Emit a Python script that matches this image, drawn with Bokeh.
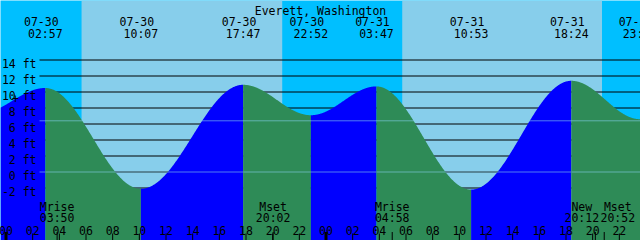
import numpy as np
from datetime import datetime
from bokeh.plotting import figure
from bokeh.models import Range1d
from bokeh.core.properties import value
from bokeh.embed import file_html
from bokeh.resources import INLINE

# ---------------- data ----------------
TITLE = "Everett, Washington"
# high / low tides (local time) and heights in feet
tide_times = ["07-29 22:00", "07-30 02:57", "07-30 10:07", "07-30 17:47", "07-30 22:52",
              "07-31 03:47", "07-31 10:53", "07-31 18:24", "07-31 23:33", "08-01 04:40"]
tide_heights = [7.3, 10.5, -2.1, 10.9, 7.1, 10.7, -2.2, 11.4, 6.6, 10.8]
tide_labeled = [False, True, True, True, True, True, True, True, True, False]
# sunrise / sunset
sun_rise = ["07-30 05:40", "07-31 05:43"]
sun_set = ["07-30 20:43", "07-31 20:42"]
# moon events
moon_names = ["Mrise", "Mset", "Mrise", "New", "Mset"]
moon_times = ["07-30 03:50", "07-30 20:02", "07-31 04:58", "07-31 20:12", "07-31 20:52"]
# current time marker
now_time = "07-30 00:43"
# levels
height_ticks = [-2, 0, 2, 4, 6, 8, 10, 12, 14]
mean_level = 6.4
datum_level = 0.0
# hour labels on the time axis
hour_labels = ["00", "02", "04", "06", "08", "10", "12", "14", "16", "18", "20", "22"]
days = ["07-30", "07-31"]

# ---------------- helpers ----------------
BASE = datetime(2000, 7, 30, 0, 0)


def hours(s):
    d = datetime.strptime("2000-" + s, "%Y-%m-%d %H:%M")
    return (d - BASE).total_seconds() / 3600.0


def hhmm(s):
    return s.split(" ")[1]


def ddmm(s):
    return s.split(" ")[0]


W, H = 640, 240
PX_H = W / 48.0          # pixels per hour
PX_FT = 8.0              # pixels per foot
X0_PX = 5.5              # pixel of 07-30 00:00
Y0_PX = 171.5            # pixel of 0 ft

x_start = -X0_PX / PX_H
x_end = x_start + W / PX_H
y_top = Y0_PX / PX_FT
y_bot = -(H - Y0_PX) / PX_FT


def ypx(y):
    return (Y0_PX - y) / PX_FT


def xpx(x):
    return x_start + x / PX_H


tt = [hours(s) for s in tide_times]


def curve(t):
    t = np.asarray(t, dtype=float)
    out = np.empty_like(t)
    for i in range(len(tt) - 1):
        m = (t >= tt[i]) & (t <= tt[i + 1])
        f = (t[m] - tt[i]) / (tt[i + 1] - tt[i])
        out[m] = tide_heights[i] + (tide_heights[i + 1] - tide_heights[i]) * (1 - np.cos(np.pi * f)) / 2
    return out


FONT = value("DejaVu Sans Mono")
FS = "11.5px"
NIGHT = "#00BFFF"
DAY = "#87CEEB"
RISE = "#0000FF"
FALL = "#2E8B57"

p = figure(width=W, height=H, x_range=Range1d(x_start, x_end), y_range=Range1d(y_bot, y_top),
           output_backend="svg", toolbar_location=None, x_axis_type=None, y_axis_type=None,
           min_border=0)
p.grid.visible = False
p.outline_line_color = None
p.background_fill_color = NIGHT
p.border_fill_color = NIGHT

# day bands
p.quad(left=[hours(s) for s in sun_rise], right=[hours(s) for s in sun_set],
       bottom=y_bot, top=y_top, fill_color=DAY, line_color=None, level="image")

# height grid lines (behind water)
line_x0 = xpx(39)
p.segment(x0=line_x0, x1=x_end, y0=height_ticks, y1=height_ticks, line_color="black",
          line_width=1, level="underlay")

# water
for i in range(len(tt) - 1):
    a, b = max(tt[i], x_start), min(tt[i + 1], x_end)
    if a >= b:
        continue
    ts = np.linspace(a, b, 200)
    color = RISE if tide_heights[i + 1] > tide_heights[i] else FALL
    p.varea(x=ts, y1=y_bot, y2=curve(ts), fill_color=color, level="glyph")

# mean and datum lines
p.segment(x0=line_x0, x1=x_end, y0=[datum_level, mean_level], y1=[datum_level, mean_level],
          line_color=DAY, line_alpha=0.6, line_width=1, level="overlay")

TXT = dict(text_font=FONT, text_font_size=FS, text_color="black", level="overlay")

# height labels
p.text(x=xpx(36), y=[ypx(Y0_PX - h * PX_FT + 3.5) for h in height_ticks],
       text=[f"{h} ft" for h in height_ticks], text_align="right", text_baseline="alphabetic", **TXT)

# title
p.text(x=[xpx(W / 2)], y=[ypx(10)], text=[TITLE], text_align="center", text_baseline="alphabetic", **TXT)

# tide labels
lab_t = [t for t, l in zip(tt, tide_labeled) if l]
lab_s = [s for s, l in zip(tide_times, tide_labeled) if l]
p.text(x=lab_t, y=ypx(20.7), text=[ddmm(s) for s in lab_s], x_offset=-4, text_align="center",
       text_baseline="alphabetic", **TXT)
p.text(x=lab_t, y=ypx(33.3), text=[hhmm(s) for s in lab_s], text_align="center",
       text_baseline="alphabetic", **TXT)

# moon labels with simple overlap avoidance
mt = [hours(s) for s in moon_times]
cx = [X0_PX + t * PX_H for t in mt]
CHAR_W = 6.9
offs = [0.0] * len(mt)
for i in range(len(mt) - 1):
    w = (max(len(moon_names[i]), 5) + max(len(moon_names[i + 1]), 5)) / 2 * CHAR_W + 1.5
    d = (cx[i + 1] + offs[i + 1]) - (cx[i] + offs[i])
    if d < w:
        sh = (w - d) / 2
        offs[i] -= sh
        offs[i + 1] += sh
p.text(x=mt, y=ypx(206), text=moon_names, x_offset=offs, text_align="center",
       text_baseline="alphabetic", **TXT)
p.text(x=mt, y=ypx(217.7), text=[hhmm(s) for s in moon_times], x_offset=offs, text_align="center",
       text_baseline="alphabetic", **TXT)

# hour labels and ticks
hx, hl = [], []
for di, d in enumerate(days):
    for lab in hour_labels:
        hx.append(di * 24 + int(lab))
        hl.append(lab)
p.text(x=hx, y=ypx(229.5), text=hl, text_align="center", text_baseline="alphabetic", **TXT)
p.segment(x0=hx, x1=hx, y0=ypx(240), y1=ypx(233), line_color="black", line_width=1, level="overlay")
mid = [x for x in hx if x % 24 == 0]
p.segment(x0=mid, x1=mid, y0=ypx(240), y1=ypx(231.5), line_color="black", line_width=3, level="overlay")
p.segment(x0=mt, x1=mt, y0=ypx(240), y1=ypx(231.5), line_color="black", line_width=1, level="overlay")

# "now" marker on the curve
nt = hours(now_time)
p.text(x=[nt], y=[float(curve([nt])[0])], text=["+"], text_align="center", text_baseline="middle", **TXT)

open("out.html", "w").write(file_html(p, INLINE))
